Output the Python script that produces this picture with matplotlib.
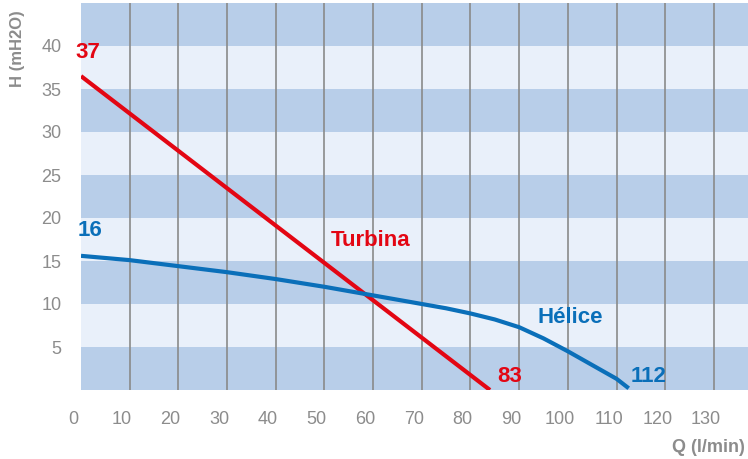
import matplotlib
matplotlib.use('Agg')
import matplotlib.pyplot as plt
import matplotlib.transforms as mtransforms
from matplotlib import font_manager

# curve data
turbina_q = [0, 84]
turbina_h = [36.5, 0]

helice_q = [0, 10, 20, 30, 40, 50, 60, 65, 70, 75, 80, 85, 90, 95, 100, 105, 110, 112.5]
helice_h = [15.6, 15.1, 14.4, 13.7, 12.9, 12.0, 11.0, 10.5, 10.0, 9.5, 8.9, 8.2, 7.3, 6.0, 4.5, 2.9, 1.3, 0.2]

x_ticks = list(range(0, 140, 10))
y_ticks = [5, 10, 15, 20, 25, 30, 35, 40]
band_edges = list(range(0, 50, 5))

names = {f.name for f in font_manager.fontManager.ttflist}
FONT = 'Liberation Sans Narrow' if 'Liberation Sans Narrow' in names else 'Liberation Sans'
plt.rcParams['font.family'] = [FONT, 'DejaVu Sans']

RED = '#e30613'
BLUE = '#0a6fb9'
GREY = '#8c8c8c'
BAND_DARK = '#b8cee9'
BAND_LIGHT = '#e9f0fa'

fig = plt.figure(figsize=(7.48, 4.59), dpi=100)
ax = fig.add_axes([81 / 748, 69 / 459, 667 / 748, 387 / 459])
ax.set_xlim(0, 137)
ax.set_ylim(0, 45)

# horizontal bands
for i, lo in enumerate(band_edges[:-1]):
    ax.axhspan(lo, lo + 5, color=BAND_DARK if i % 2 == 0 else BAND_LIGHT, lw=0, zorder=0)

# vertical grid
for q in x_ticks[1:]:
    ax.axvline(q, color='#8a8a8a', lw=1.2, zorder=1)

ax.plot(turbina_q, turbina_h, color=RED, lw=3, zorder=3, solid_capstyle='butt')
ax.plot(helice_q, helice_h, color=BLUE, lw=3, zorder=3, solid_capstyle='butt',
        solid_joinstyle='round')

for s in ax.spines.values():
    s.set_visible(False)

ax.set_xticks(x_ticks)
ax.set_yticks(y_ticks)
ax.tick_params(axis='both', length=0, labelsize=13, labelcolor=GREY)
ax.tick_params(axis='x', pad=15)
ax.tick_params(axis='y', pad=14)
shift = mtransforms.ScaledTranslation(-0.08, 0, fig.dpi_scale_trans)
for lbl in ax.get_xticklabels():
    lbl.set_transform(lbl.get_transform() + shift)

fig.text(18 / 748, 1 - 49 / 459, 'H (mH2O)', rotation=90, ha='center', va='center',
         fontsize=12, fontweight='bold', color=GREY)
fig.text(745 / 748, 1 - 447 / 459, 'Q (l/min)', ha='right', va='center',
         fontsize=13, fontweight='bold', color=GREY)

bold = dict(fontweight='bold', fontsize=16, va='center', ha='center')
ax.text(1.5, 39.2, '37', color=RED, **bold)
ax.text(1.8, 18.5, '16', color=BLUE, **bold)
ax.text(59.5, 17.4, 'Turbina', color=RED, **bold)
ax.text(100.5, 8.4, 'Hélice', color=BLUE, **bold)
ax.text(88, 1.6, '83', color=RED, **bold)
ax.text(116.5, 1.6, '112', color=BLUE, **bold)

fig.savefig('out.png', dpi=100)
